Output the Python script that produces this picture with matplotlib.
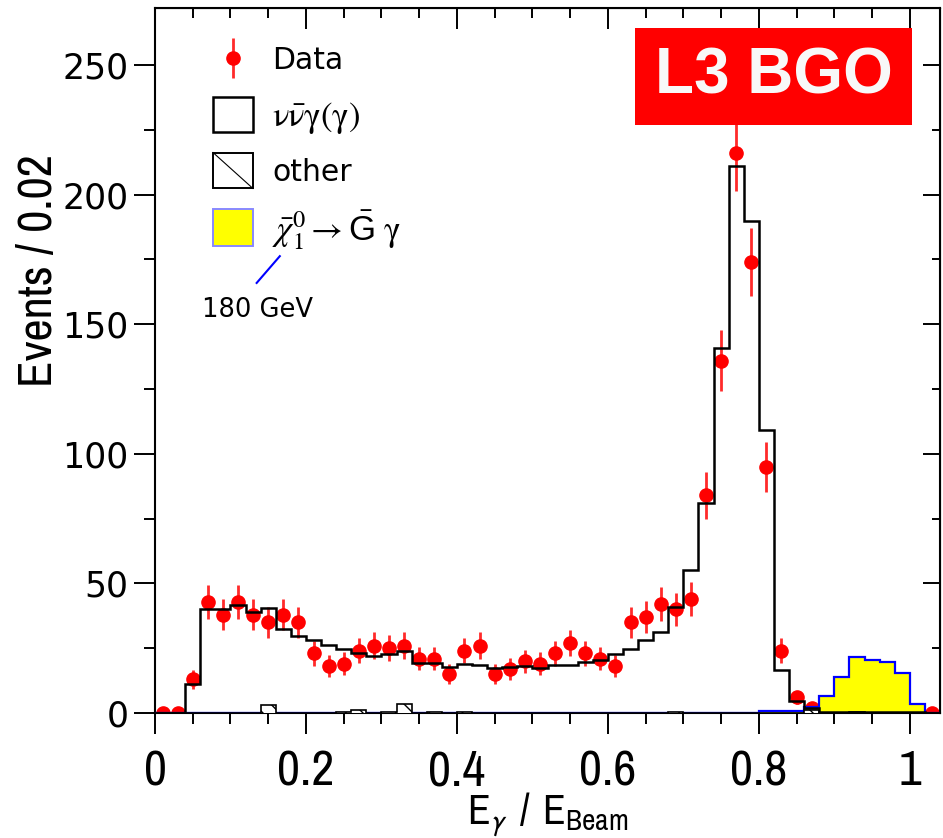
import numpy as np
import matplotlib
matplotlib.use('Agg')
import matplotlib.pyplot as plt
from matplotlib import font_manager
from matplotlib.font_manager import FontProperties
from matplotlib.patches import Rectangle
from matplotlib.lines import Line2D
from matplotlib.ticker import MultipleLocator

# 52 bins of width 0.02 in E_gamma / E_beam
edges = np.linspace(0.0, 1.04, 53)

# selected events per bin
data_counts = [0, 0, 13, 43, 38, 43, 38, 35, 38, 35,
               23, 18, 19, 24, 26, 25, 26, 21, 21, 15,
               24, 26, 15, 17, 20, 19, 23, 27, 23, 21,
               18, 35, 37, 42, 40, 44, 84, 136, 216, 174,
               95, 24, 6, 2, 0, 0, 0, 0, 0, 0,
               0, 0]

# expected nu nubar gamma(gamma)
mc_nng = [0, 0, 11, 40, 40, 41.6, 39.1, 40.6, 32.3, 29.7,
          28.0, 26.1, 24.6, 23.0, 22.1, 22.7, 24.1, 19.3, 19.3, 17.9,
          18.8, 18.4, 17.2, 17.9, 18.1, 17.5, 18.5, 18.5, 19.8, 20.5,
          22.7, 24.6, 28.2, 31.4, 40.8, 55.2, 81.2, 140.8, 211, 190,
          109, 16.6, 4.8, 1.8, 0.3, 0.3, 0.3, 0.3, 0.3, 0.3,
          0.3, 0]

# other backgrounds
mc_other = [0, 0, 0, 0, 0, 0, 0, 3.1, 0, 0,
            0, 0, 0.5, 1.0, 0, 0.5, 3.6, 0, 0.5, 0,
            0.5, 0, 0, 0, 0, 0, 0, 0, 0, 0,
            0, 0, 0, 0, 0.5, 0, 0, 0, 0, 0,
            0, 0, 0, 1.0, 0, 0, 0.5, 0, 0, 0,
            0, 0]

# neutralino -> gravitino photon, m = 180 GeV
signal_180 = [0, 0, 0, 0, 0, 0, 0, 0, 0, 0,
              0, 0, 0, 0, 0, 0, 0, 0, 0, 0,
              0, 0, 0, 0, 0, 0, 0, 0, 0, 0,
              0, 0, 0, 0, 0, 0, 0, 0, 0, 0,
              0.8, 0.8, 0.8, 2.2, 6.6, 13.9, 21.6, 20.6, 19.8, 15.4,
              3.6, 0]

x_ticks = [0, 0.2, 0.4, 0.6, 0.8, 1.0]
x_tick_labels = ['0', '0.2', '0.4', '0.6', '0.8', '1']
y_ticks = [0, 50, 100, 150, 200, 250]


def narrow_font():
    # prefer a narrow / condensed sans face for the axis titles
    found = []
    for f in font_manager.fontManager.ttflist:
        if f.style != 'normal' or f.weight not in (400, 'normal', 'regular', 'book'):
            continue
        if 'Narrow' in f.name:
            found.append((0, f.fname))
        elif 'Condensed' in f.name or f.stretch in ('condensed', 'semi-condensed'):
            found.append((1, f.fname))
    if found:
        return FontProperties(fname=sorted(found)[0][1]), True
    return FontProperties(family='Liberation Sans'), False


narrow, is_narrow = narrow_font()
tick_size = 36 if is_narrow else 28
ylab_size = 35 if is_narrow else 29

plt.rcParams['font.family'] = 'DejaVu Sans'

fig = plt.figure(figsize=(9.43, 8.38), dpi=100)
fig.subplots_adjust(left=155 / 943, right=940 / 943, bottom=1 - 713 / 838, top=1 - 8 / 838)
ax = fig.add_subplot(111)

centers = 0.5 * (edges[:-1] + edges[1:])
counts = np.array(data_counts, dtype=float)

ax.errorbar(centers, counts, yerr=np.sqrt(counts), fmt='o', color='#ff0000',
            ecolor='#ff2a2a', ms=9.5, elinewidth=2.0, capsize=0, zorder=2)
ax.stairs(signal_180, edges, fill=True, color='#ffff00', zorder=3)
ax.stairs(signal_180, edges, color='#0000ff', lw=1.6, zorder=3.2)
ax.stairs(mc_other, edges, fill=True, facecolor='white', edgecolor='black',
          hatch='\\\\', lw=1.2, zorder=3.5)
ax.stairs(mc_nng, edges, color='black', lw=1.8, zorder=4)

ax.set_xlim(0, 1.04)
ax.set_ylim(0, 272)

ax.set_xticks(x_ticks)
ax.set_xticklabels(x_tick_labels, fontproperties=narrow, fontsize=tick_size)
ax.set_yticks(y_ticks)
ax.set_yticklabels([str(v) for v in y_ticks], fontsize=25)
ax.xaxis.set_minor_locator(MultipleLocator(0.05))
ax.yaxis.set_minor_locator(MultipleLocator(25))
ax.tick_params(which='major', direction='out', length=15, width=1.4)
ax.tick_params(which='minor', direction='out', length=8, width=1.4)
ax.tick_params(axis='x', which='major', pad=11)
ax.tick_params(axis='y', which='major', pad=4)
for s in ax.spines.values():
    s.set_linewidth(1.5)

# inward ticks on the opposite sides
top = ax.secondary_xaxis('top')
top.set_xticks(x_ticks)
top.xaxis.set_minor_locator(MultipleLocator(0.05))
top.tick_params(which='major', direction='in', length=15, width=1.4, labeltop=False)
top.tick_params(which='minor', direction='in', length=7, width=1.4)
right = ax.secondary_yaxis('right')
right.set_yticks(y_ticks)
right.yaxis.set_minor_locator(MultipleLocator(25))
right.tick_params(which='major', direction='in', length=12, width=1.4, labelright=False)
right.tick_params(which='minor', direction='in', length=6, width=1.4)

ax.set_xlabel(r'$\mathregular{E_{\gamma}\ /\ E_{Beam}}$', fontproperties=narrow, fontsize=30,
              va='top')
ax.xaxis.set_label_coords(0.5, -0.11)
ax.set_ylabel('Events / 0.02', fontproperties=narrow, fontsize=ylab_size)
ax.yaxis.set_label_coords(-0.121, 0.628)

# legend
T = ax.transAxes
ax.errorbar([0.0994], [0.929], yerr=[0.028], fmt='o', color='#ff0000', ecolor='#ff2a2a',
            ms=9.5, elinewidth=2.0, capsize=0, transform=T, clip_on=False, zorder=6)
ax.add_patch(Rectangle((0.0739, 0.824), 0.0509, 0.050, transform=T, fc='white',
                       ec='black', lw=1.8, zorder=6))
ax.add_patch(Rectangle((0.0739, 0.744), 0.0509, 0.051, transform=T, fc='white',
                       ec='black', lw=1.4, zorder=6))
ax.add_line(Line2D([0.0739, 0.1248], [0.795, 0.744], transform=T, color='black', lw=0.8, zorder=6))
ax.add_patch(Rectangle((0.0739, 0.663), 0.0509, 0.052, transform=T, fc='#ffff00',
                       ec='#8888ff', lw=1.4, zorder=6))
ax.text(0.149, 0.926, 'Data', transform=T, fontsize=21.5, va='center', ha='left')
ax.text(0.149, 0.844, r'$\mathrm{\nu\bar{\nu}\gamma(\gamma)}$', transform=T, fontsize=25,
        va='center', ha='left', math_fontfamily='stix')
ax.text(0.149, 0.766, 'other', transform=T, fontsize=21.5, va='center', ha='left')
ax.text(0.149, 0.685, r'$\bar{\chi}^{0}_{1} \rightarrow \bar{\mathregular{G}}\ \mathrm{\gamma}$',
        transform=T, fontsize=25, va='center', ha='left', math_fontfamily='stix',
        family='Liberation Sans')
ax.add_line(Line2D([0.1295, 0.159], [0.610, 0.648], transform=T, color='#0000ff', lw=1.5, zorder=6))
ax.text(0.130, 0.572, '180 GeV', transform=T, fontsize=18.5, va='center', ha='center')

# experiment tag
ax.add_patch(Rectangle((0.6115, 0.834), 0.3528, 0.1376, transform=T, fc='#ff0000',
                       ec='none', zorder=10))
ax.text(0.788, 0.903, 'L3 BGO', transform=T, fontsize=46, fontweight='bold',
        family='Liberation Sans', color='#f8f8f8', ha='center', va='center', zorder=11)

fig.savefig('out.png', dpi=100)
